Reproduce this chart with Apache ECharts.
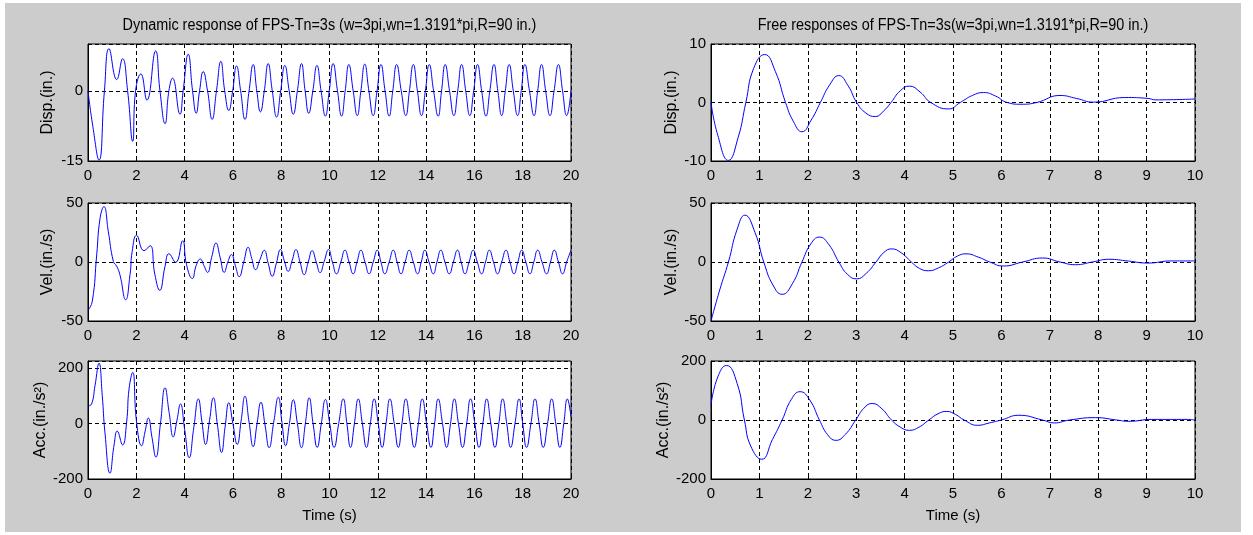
<!DOCTYPE html>
<html>
<head>
<meta charset="utf-8">
<script src="https://cdn.jsdelivr.net/npm/echarts@6/dist/echarts.min.js"></script>
<style>
html,body{margin:0;padding:0;background:#fff;}
#bg{position:absolute;left:5px;top:3px;width:1236px;height:529px;background:#cccccc;}
#chart{position:absolute;left:0;top:0;width:1253px;height:535px;}
</style>
</head>
<body>
<div id="bg"></div>
<div id="chart"></div>
<script>
// ---- Titles and labels ----
const leftTitle = 'Dynamic response of FPS-Tn=3s (w=3pi,wn=1.3191*pi,R=90 in.)';
const rightTitle = 'Free responses of FPS-Tn=3s(w=3pi,wn=1.3191*pi,R=90 in.)';
const yNames = ['Disp.(in.)', 'Vel.(in./s)', 'Acc.(in./s\u00B2)'];
const xName = 'Time (s)';

// ---- Tick labels ----
const leftXTicks = [0,2,4,6,8,10,12,14,16,18,20];
const rightXTicks = [0,1,2,3,4,5,6,7,8,9,10];
const leftDispTicks = [-15, 0];
const velTicks = [-50, 0, 50];
const accTicks = [-200, 0, 200];
const rightDispTicks = [-10, 0, 10];

// ---- Dynamic response (left column), [time s, value] ----
const dynDisp = [[0,0],[0.2,-7.6],[0.455,-14.8],[0.68,0],[0.87,9.0],[1.19,2.4],[1.43,6.85],[1.64,0],[1.85,-10.8],[1.97,0],
[2.19,3.6],[2.44,-2.0],[2.80,8.5],[2.98,0],[3.19,-7.0],[3.35,0],[3.50,2.7],[3.81,-5.0],[3.94,0],[4.15,7.8],
[4.33,0],[4.48,-4.8],[4.62,0],[4.77,4.1],[4.95,0],[5.14,-6.1],[5.32,0],[5.50,6.3],[5.66,0],[5.83,-4.2],
[5.99,0],[6.15,5.3],[6.32,0],[6.50,-6.1],[6.67,0],[6.84,5.6],[6.99,0],[7.14,-4.5],[7.30,0],[7.46,5.8],
[7.63,0],[7.81,-5.6],[7.98,0],[8.15,5.4],[8.33,0],[8.50,-5.0],[8.67,0],[8.84,5.8],[8.99,0],[9.14,-4.8],
[9.31,0],[9.48,5.4],[9.65,0],[9.83,-5.4],[9.99,0],[10.15,5.8],[10.33,0],[10.50,-5.4],[10.65,0],[10.80,5.6],
[10.98,0],[11.15,-5.3],[11.30,0],[11.46,5.7],[11.63,0],[11.81,-5.3],[11.97,0],[12.13,5.6],[12.30,0],[12.47,-5.4],
[12.62,0],[12.78,5.6],[12.97,0],[13.16,-5.3],[13.31,0],[13.47,5.6],[13.64,0],[13.81,-5.3],[13.97,0],[14.13,5.6],
[14.31,0],[14.50,-5.4],[14.64,0],[14.79,5.6],[14.97,0],[15.15,-5.3],[15.31,0],[15.47,5.6],[15.64,0],[15.81,-5.3],
[15.97,0],[16.13,5.6],[16.30,0],[16.48,-5.4],[16.64,0],[16.81,5.6],[16.97,0],[17.13,-5.3],[17.28,0],[17.44,5.6],
[17.61,0],[17.79,-5.3],[17.94,0],[18.09,5.6],[18.28,0],[18.47,-5.3],[18.62,0],[18.78,5.6],[18.95,0],[19.13,-5.3],
[19.30,0],[19.48,5.6],[19.65,0],[19.82,-5.3],[20.0,0]];

const dynVel = [[0,-41],[0.18,-33],[0.36,6],[0.50,37],[0.66,47],[0.84,26],[1.05,0.5],[1.19,-3.7],[1.32,-10.7],[1.56,-32],
[1.74,-10.7],[1.83,9],[2.01,22.6],[2.32,9.6],[2.57,13.8],[2.77,-10.7],[2.97,-24],[3.19,-3.7],[3.35,7],[3.63,-0.3],
[3.92,18],[4.08,-2.3],[4.32,-14],[4.48,-3],[4.65,2.5],[4.80,-3],[4.95,-8.8],[5.12,4],[5.30,16.1],[5.47,4],
[5.64,-8.8],[5.79,0],[5.94,6.2],[6.10,-3],[6.26,-12.4],[6.45,0],[6.63,12.4],[6.78,3],[6.94,-6.5],[7.12,2],
[7.30,9.9],[7.46,-1],[7.63,-12.1],[7.80,-1],[7.97,10.5],[8.13,1],[8.29,-7.9],[8.45,1],[8.61,10.5],[8.78,0],
[8.95,-10.7],[9.12,0],[9.28,9.6],[9.45,0],[9.61,-9.0],[9.78,0.5],[9.96,10.5],[10.12,0],[10.29,-10],[10.47,0],
[10.64,10],[10.81,0],[10.98,-10],[11.14,0],[11.30,10],[11.47,0],[11.64,-10],[11.81,0],[11.98,10],[12.13,0],
[12.29,-10],[12.47,0],[12.64,10],[12.80,0],[12.96,-10],[13.13,0],[13.30,10],[13.47,0],[13.65,-10],[13.80,0],
[13.95,10],[14.12,0],[14.30,-10],[14.45,0],[14.61,10],[14.78,0],[14.96,-10],[15.13,0],[15.30,10],[15.45,0],
[15.61,-10],[15.78,0],[15.95,10],[16.12,0],[16.30,-10],[16.46,0],[16.62,10],[16.79,0],[16.96,-10],[17.13,0],
[17.31,10],[17.47,0],[17.64,-10],[17.80,0],[17.96,10],[18.13,0],[18.30,-10],[18.46,0],[18.62,10],[18.80,0],
[18.99,-10],[19.15,0],[19.31,10],[19.48,0],[19.65,-10],[19.82,0],[20.0,10]];

const dynAcc = [[0,63],[0.15,71],[0.29,137],[0.455,218],[0.59,101],[0.70,-30],[0.91,-179],[1.08,-77],[1.21,-27],[1.43,-77],
[1.60,6],[1.70,125],[1.85,185],[2.01,6],[2.22,-80],[2.36,-30],[2.50,20],[2.65,-50],[2.81,-121],[3.00,0],
[3.19,129],[3.36,40],[3.53,-48],[3.68,10],[3.83,71],[4.00,-20],[4.19,-123],[4.38,-15],[4.57,89],[4.72,5],
[4.87,-75],[5.03,10],[5.19,93],[5.36,-5],[5.53,-104],[5.68,-10],[5.83,75],[6.00,0],[6.18,-75],[6.34,10],
[6.50,99],[6.67,5],[6.84,-83],[7.00,0],[7.16,77],[7.33,-5],[7.50,-87],[7.69,5],[7.88,95],[8.03,5],
[8.18,-80],[8.34,0],[8.50,86],[8.67,0],[8.84,-87],[9.00,0],[9.16,93],[9.32,0],[9.49,-86],[9.66,0],
[9.83,87],[10.01,0],[10.19,-86],[10.38,0],[10.57,89],[10.72,0],[10.87,-86],[11.03,0],[11.19,89],[11.36,0],
[11.53,-86],[11.69,0],[11.85,89],[12.02,0],[12.18,-86],[12.34,0],[12.50,89],[12.68,0],[12.85,-86],[13.00,0],
[13.16,89],[13.34,0],[13.51,-86],[13.68,0],[13.84,89],[14.02,0],[14.20,-86],[14.35,0],[14.50,89],[14.68,0],
[14.85,-86],[15.01,0],[15.17,89],[15.34,0],[15.51,-86],[15.68,0],[15.84,89],[16.02,0],[16.19,-86],[16.35,0],
[16.51,89],[16.68,0],[16.85,-86],[17.01,0],[17.17,89],[17.34,0],[17.50,-86],[17.68,0],[17.85,89],[18.00,0],
[18.16,-86],[18.34,0],[18.51,89],[18.68,0],[18.85,-86],[19.03,0],[19.20,89],[19.37,0],[19.54,-86],[19.70,0],
[19.85,89],[20.0,24]];

// ---- Free response (right column), [time s, value] ----
const freeDisp = [[0,0],[0.14,-5.6],[0.36,-9.9],[0.56,-6.0],[0.72,0],[0.88,5.8],[1.11,8.2],[1.33,5.3],[1.54,0],[1.70,-3.2],[1.88,-5.0],
[2.07,-3.0],[2.26,0],[2.45,3.0],[2.64,4.6],[2.83,2.9],[3.01,0],[3.20,-1.8],[3.40,-2.4],[3.56,-1.5],[3.72,0],[3.91,2.0],[4.10,2.8],
[4.32,1.8],[4.54,0],[4.91,-1.1],[5.15,0],[5.40,1.2],[5.63,1.7],[5.88,1.1],[6.12,0],[6.40,-0.3],[6.73,0],[7.21,1.2],[7.55,0.7],[7.90,0.06],
[8.55,0.85],[9.03,0.7],[9.19,0.45],[10.0,0.6]];

const freeVel = [[0,-50],[0.18,-23.7],[0.36,0],[0.54,27.7],[0.70,39.7],[0.91,24.9],[1.09,0],[1.28,-19.5],[1.47,-27.4],[1.68,-18.5],[1.88,0],[2.06,15.2],[2.24,21.1],
[2.44,14.5],[2.64,0],[2.82,-10.5],[3.01,-14.3],[3.21,-9.5],[3.41,0],[3.57,8.0],[3.73,11.1],[3.93,7.8],[4.14,0],[4.31,-5.5],[4.49,-7.4],[4.70,-5.0],[4.91,0],[5.09,5.0],[5.27,6.9],
[5.52,4.2],[5.76,0],[6.04,-3.4],[6.44,0],[6.85,3.4],[7.21,0],[7.53,-2.3],[7.88,0],[8.22,2.3],[8.62,0.8],[9.03,-0.9],[9.5,0.9],[10.0,0.9]];

const freeAcc = [[0,51],[0.14,146],[0.32,185],[0.54,124],[0.69,0],[0.82,-88],[1.05,-133],[1.27,-66],[1.47,0],[1.66,70],[1.84,96],
[2.04,68],[2.24,0],[2.41,-50],[2.58,-69],[2.78,-48],[2.99,0],[3.16,40],[3.33,56],[3.53,38],[3.73,0],[3.92,-25],[4.10,-35],[4.30,-24],[4.50,0],[4.69,21],[4.87,29],
[5.05,19],[5.23,0],[5.51,-18],[5.75,-10],[6.00,0],[6.36,16],[6.85,0],[7.09,-10],[7.41,0],[7.94,8],[8.38,0],[8.63,-4.5],[9.11,2],[9.84,2],[10.0,0]];

// ---- Layout ----
const FONT = "'Liberation Sans', Arial, sans-serif";
const colX = [88, 711];
const colW = [483, 484];
const rowTop = [44, 203, 361];
const rowH = [117, 118, 118];

const grids = [], xAxes = [], yAxes = [], series = [];
const yCfg = [
  {min:-15, max:10, interval:15, ticks:leftDispTicks},
  {min:-50, max:50, interval:50, ticks:velTicks},
  {min:-200, max:226, interval:200, ticks:accTicks},
  {min:-10, max:10, interval:10, ticks:rightDispTicks},
  {min:-50, max:50, interval:50, ticks:velTicks},
  {min:-200, max:200, interval:200, ticks:accTicks}
];
const datasets = [dynDisp, dynVel, dynAcc, freeDisp, freeVel, freeAcc];
const dash = {color:'#000', width:1, type:[4,3]};

for (let c = 0; c < 2; c++) {
  for (let r = 0; r < 3; r++) {
    const i = c*3 + r;
    grids.push({left: colX[c], top: rowTop[r], width: colW[c], height: rowH[r],
      show: true, backgroundColor:'#fff', borderColor:'#000', borderWidth:1, containLabel:false});
    const xt = c === 0 ? leftXTicks : rightXTicks;
    xAxes.push({type:'value', gridIndex:i, min:0, max: xt[xt.length-1], interval: xt[1]-xt[0],
      name: r === 2 ? xName : '', nameLocation:'middle', nameGap:29,
      nameTextStyle:{fontFamily:FONT, fontSize:15, color:'#000'},
      axisLine:{show:true, onZero:false, lineStyle:{color:'#000', width:1}},
      axisTick:{show:true, inside:true, length:4, lineStyle:{color:'#000'}},
      axisLabel:{show:true, margin:7, fontFamily:FONT, fontSize:15, color:'#000',
        formatter: v => xt.indexOf(v) >= 0 ? String(v) : ''},
      splitLine:{show:true, lineStyle:dash}});
    const yc = yCfg[i];
    yAxes.push({type:'value', gridIndex:i, min:yc.min, max:yc.max, interval:yc.interval,
      name: yNames[r], nameLocation:'middle', nameGap: c === 0 ? 32 : 31, nameRotate:90,
      nameTextStyle:{fontFamily:FONT, fontSize:16, color:'#000'},
      axisLine:{show:true, onZero:false, lineStyle:{color:'#000', width:1}},
      axisTick:{show:true, inside:true, length:4, lineStyle:{color:'#000'}},
      axisLabel:{show:true, margin:5, fontFamily:FONT, fontSize:15, color:'#000',
        formatter: v => yc.ticks.indexOf(v) >= 0 ? String(v) : ''},
      splitLine:{show:true, lineStyle:dash}});
    series.push({type:'line', xAxisIndex:i, yAxisIndex:i, data: datasets[i],
      showSymbol:false, smooth:0.5, lineStyle:{color:'#0000ff', width:1}, z:5});
  }
}

const chart = echarts.init(document.getElementById('chart'), null, {renderer:'canvas'});
chart.setOption({
  animation:false,
  backgroundColor:'transparent',
  grid: grids, xAxis: xAxes, yAxis: yAxes, series: series,
  graphic: [
    {type:'text', x: 329.5, y: 26, scaleX: 0.9, style:{text:leftTitle, textAlign:'center', textVerticalAlign:'middle', fontFamily:FONT, fontSize:16, fill:'#000'}},
    {type:'text', x: 953, y: 26, scaleX: 0.9, style:{text:rightTitle, textAlign:'center', textVerticalAlign:'middle', fontFamily:FONT, fontSize:16, fill:'#000'}}
  ]
});
</script>
</body>
</html>
